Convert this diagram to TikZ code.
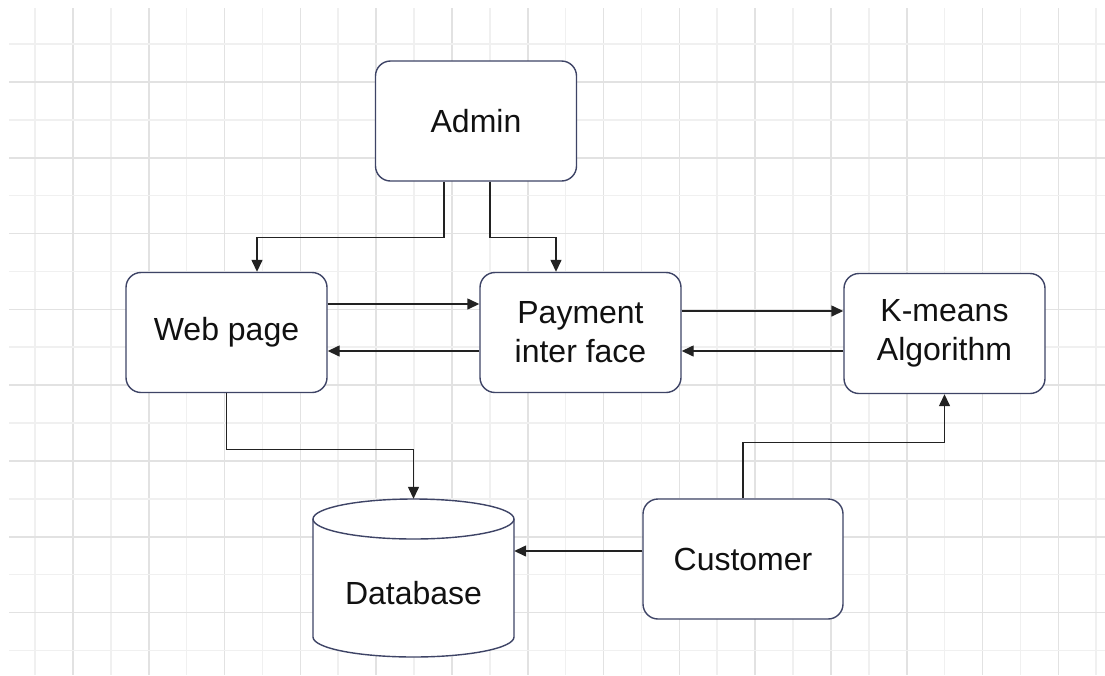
\documentclass[tikz,border=0pt]{standalone}
\usepackage{fontspec}
\setmainfont{Liberation Sans}
\usetikzlibrary{arrows.meta,calc}
\definecolor{gridlight}{RGB}{240,240,240}
\definecolor{griddark}{RGB}{226,226,226}
\definecolor{boxline}{RGB}{62,68,102}
\definecolor{arrline}{RGB}{34,34,34}
\definecolor{txt}{RGB}{17,17,17}
\tikzset{
  box/.style={draw=boxline, line width=1.4pt, rounded corners=15pt, fill=white,
    minimum width=201pt, minimum height=120pt, inner sep=0pt, align=center,
    text=txt, font=\fontsize{32}{39}\selectfont},
  arr/.style={draw=arrline, line width=1.4pt,
    -{Triangle[length=12pt,width=11pt]}},
  lbl/.style={text=txt, font=\fontsize{32}{39}\selectfont, inner sep=0pt},
  gl/.style={gridlight, line width=1.6pt},
  gd/.style={griddark, line width=1.6pt}
}
\begin{document}
\begin{tikzpicture}[x=1pt,y=-1pt]
\useasboundingbox[fill=white] (0,0) rectangle (1105,675);
% grid
\foreach \k in {0,...,28}{
  \pgfmathsetmacro{\gx}{35+37.9*\k}
  \pgfmathtruncatemacro{\odd}{mod(\k,2)}
  \ifnum\odd=1
    \draw[gd] (\gx,8) -- (\gx,675);
  \else
    \draw[gl] (\gx,8) -- (\gx,675);
  \fi
}
\foreach \k in {0,...,16}{
  \pgfmathsetmacro{\gy}{44+37.9*\k}
  \pgfmathtruncatemacro{\odd}{mod(\k,2)}
  \ifnum\odd=1
    \draw[gd] (9,\gy) -- (1105,\gy);
  \else
    \draw[gl] (9,\gy) -- (1105,\gy);
  \fi
}
% nodes
\node[box] (admin) at (476,121) {Admin};
\node[box] (web) at (226.5,332.5) {Web page};
\node[box] (pay) at (580.5,332.5) {Payment\\inter face};
\node[box] (km) at (944.5,333.5) {K-means\\Algorithm};
\node[box, minimum width=200pt] (cust) at (743,559) {Customer};
% database cylinder
\node[minimum width=201pt, minimum height=158pt, inner sep=0pt] (db) at (413.5,578) {};
\draw[boxline, line width=1.4pt, fill=white]
  (313,519) -- (313,637) arc[start angle=180, end angle=360, x radius=100.5pt, y radius=20pt]
  -- (514,519) arc[start angle=0, end angle=180, x radius=100.5pt, y radius=20pt] -- cycle;
\draw[boxline, line width=1.4pt]
  (313,519) arc[start angle=180, end angle=360, x radius=100.5pt, y radius=20pt];
\node[lbl] (dbtext) at (413.5,593) {Database};
% connectors
\draw[arr] ([xshift=-32pt]admin.south) -- ++(0,56) -| ([xshift=30.5pt]web.north);
\draw[arr] ([xshift=14pt]admin.south) -- ++(0,56) -| ([xshift=-24.5pt]pay.north);
\draw[arr] ([yshift=28.5pt]web.east) -- ([yshift=28.5pt]pay.west);
\draw[arr] ([yshift=-18.5pt]pay.west) -- ([yshift=-18.5pt]web.east);
\draw[arr] ([yshift=21.5pt]pay.east) -- ([yshift=21.5pt]km.west |- pay.east);
\draw[arr] ([yshift=-18.5pt]km.west |- pay.east) -- ([yshift=-18.5pt]pay.east);
\draw[arr] (web.south) -- ++(0,56) -| (db.north);
\draw[arr] (cust.north) -- ++(0,-56) -| (km.south);
\draw[arr] ([yshift=8pt]cust.west) -- ([yshift=27pt]db.east);
\end{tikzpicture}
\end{document}
